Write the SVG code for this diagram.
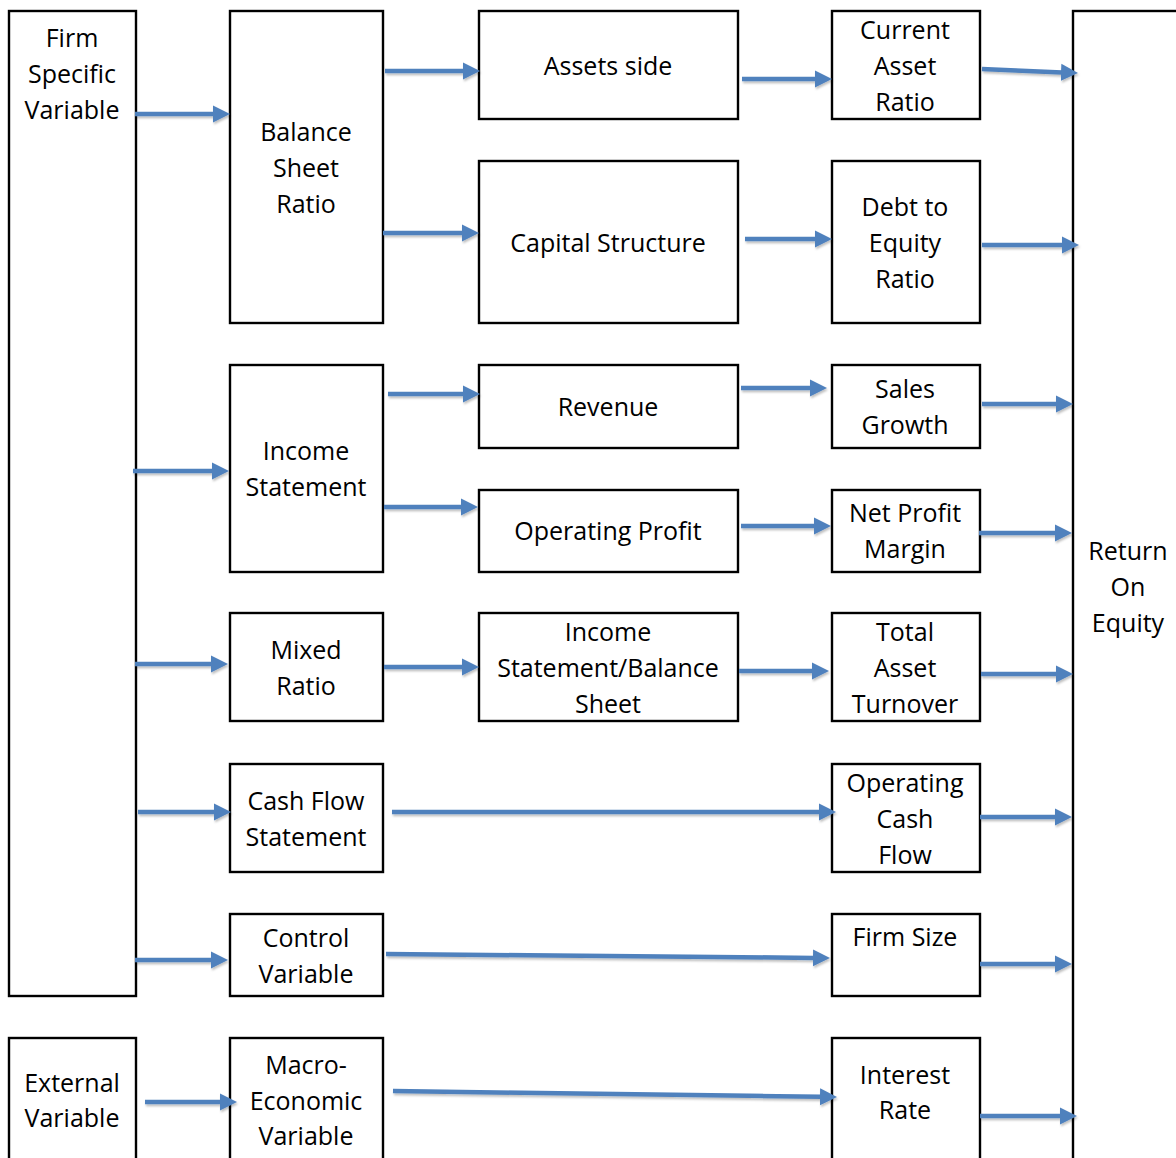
<svg xmlns="http://www.w3.org/2000/svg" width="1176" height="1158" viewBox="0 0 1176 1158">
<defs>
<style>
.box{fill:#fff;stroke:#000;stroke-width:2.4}
.t{font-family:"Open Sans","Liberation Sans",sans-serif;font-size:25px;fill:#000;text-anchor:middle}
.c{stroke:#4f81bd;stroke-width:4.5;fill:none;marker-end:url(#ah)}
</style>
<marker id="ah" markerUnits="userSpaceOnUse" markerWidth="17" markerHeight="18" viewBox="0 0 17 18" refX="1" refY="9" orient="auto">
<path d="M0,0.5 L17,9 L0,17.5 z" fill="#4f81bd"/>
</marker>
<filter id="sh" x="-5%" y="-50%" width="110%" height="200%">
<feDropShadow dx="1" dy="2" stdDeviation="1.2" flood-color="#000" flood-opacity="0.25"/>
</filter>
</defs>
<rect width="1176" height="1158" fill="#fff"/>

<g id="firm-specific"><rect class="box" x="9" y="11" width="127" height="985"/><text class="t"><tspan x="72" y="47">Firm</tspan><tspan x="72" y="83">Specific</tspan><tspan x="72" y="119">Variable</tspan></text></g>
<g id="balance-sheet"><rect class="box" x="230" y="11" width="153" height="312"/><text class="t"><tspan x="306" y="141">Balance</tspan><tspan x="306" y="177">Sheet</tspan><tspan x="306" y="213">Ratio</tspan></text></g>
<g id="assets-side"><rect class="box" x="479" y="11" width="259" height="108"/><text class="t" x="608" y="75">Assets side</text></g>
<g id="capital-structure"><rect class="box" x="479" y="161" width="259" height="162"/><text class="t" x="608" y="252">Capital Structure</text></g>
<g id="current-asset"><rect class="box" x="832" y="11" width="148" height="108"/><text class="t"><tspan x="905" y="39">Current</tspan><tspan x="905" y="75">Asset</tspan><tspan x="905" y="111">Ratio</tspan></text></g>
<g id="debt-equity"><rect class="box" x="832" y="161" width="148" height="162"/><text class="t"><tspan x="905" y="216">Debt to</tspan><tspan x="905" y="252">Equity</tspan><tspan x="905" y="288">Ratio</tspan></text></g>
<g id="roe"><rect class="box" x="1073" y="11" width="120" height="1170"/><text class="t"><tspan x="1128" y="560">Return</tspan><tspan x="1128" y="596">On</tspan><tspan x="1128" y="632">Equity</tspan></text></g>
<g id="income-statement"><rect class="box" x="230" y="365" width="153" height="207"/><text class="t"><tspan x="306" y="460">Income</tspan><tspan x="306" y="496">Statement</tspan></text></g>
<g id="revenue"><rect class="box" x="479" y="365" width="259" height="83"/><text class="t" x="608" y="416">Revenue</text></g>
<g id="operating-profit"><rect class="box" x="479" y="490" width="259" height="82"/><text class="t" x="608" y="540">Operating Profit</text></g>
<g id="sales-growth"><rect class="box" x="832" y="365" width="148" height="83"/><text class="t"><tspan x="905" y="398">Sales</tspan><tspan x="905" y="434">Growth</tspan></text></g>
<g id="net-profit"><rect class="box" x="832" y="490" width="148" height="82"/><text class="t"><tspan x="905" y="522">Net Profit</tspan><tspan x="905" y="558">Margin</tspan></text></g>
<g id="mixed-ratio"><rect class="box" x="230" y="613" width="153" height="108"/><text class="t"><tspan x="306" y="659">Mixed</tspan><tspan x="306" y="695">Ratio</tspan></text></g>
<g id="is-bs"><rect class="box" x="479" y="613" width="259" height="108"/><text class="t"><tspan x="608" y="641">Income</tspan><tspan x="608" y="677">Statement/Balance</tspan><tspan x="608" y="713">Sheet</tspan></text></g>
<g id="total-asset"><rect class="box" x="832" y="613" width="148" height="108"/><text class="t"><tspan x="905" y="641">Total</tspan><tspan x="905" y="677">Asset</tspan><tspan x="905" y="713">Turnover</tspan></text></g>
<g id="cash-flow"><rect class="box" x="230" y="764" width="153" height="108"/><text class="t"><tspan x="306" y="810">Cash Flow</tspan><tspan x="306" y="846">Statement</tspan></text></g>
<g id="operating-cash"><rect class="box" x="832" y="764" width="148" height="108"/><text class="t"><tspan x="905" y="792">Operating</tspan><tspan x="905" y="828">Cash</tspan><tspan x="905" y="864">Flow</tspan></text></g>
<g id="control-variable"><rect class="box" x="230" y="914" width="153" height="82"/><text class="t"><tspan x="306" y="947">Control</tspan><tspan x="306" y="983">Variable</tspan></text></g>
<g id="firm-size"><rect class="box" x="832" y="914" width="148" height="82"/><text class="t" x="905" y="946">Firm Size</text></g>
<g id="external"><rect class="box" x="9" y="1038" width="127" height="140"/><text class="t"><tspan x="72" y="1092">External</tspan><tspan x="72" y="1127">Variable</tspan></text></g>
<g id="macro"><rect class="box" x="230" y="1038" width="153" height="140"/><text class="t"><tspan x="306" y="1074">Macro-</tspan><tspan x="306" y="1110">Economic</tspan><tspan x="306" y="1145">Variable</tspan></text></g>
<g id="interest-rate"><rect class="box" x="832" y="1038" width="148" height="140"/><text class="t"><tspan x="905" y="1084">Interest</tspan><tspan x="905" y="1119">Rate</tspan></text></g>

<g id="connectors" filter="url(#sh)">
<line class="c" x1="135" y1="114" x2="214" y2="114"/>
<line class="c" x1="385" y1="71" x2="464" y2="71"/>
<line class="c" x1="383" y1="233" x2="463" y2="233"/>
<line class="c" x1="742" y1="79" x2="816" y2="79"/>
<line class="c" x1="745" y1="239" x2="816" y2="239"/>
<line class="c" x1="982" y1="69" x2="1062" y2="72.4"/>
<line class="c" x1="982" y1="245" x2="1063" y2="245"/>
<line class="c" x1="133" y1="471" x2="213" y2="471"/>
<line class="c" x1="388" y1="394" x2="464" y2="394"/>
<line class="c" x1="384" y1="507" x2="462" y2="507"/>
<line class="c" x1="741" y1="388" x2="811" y2="388"/>
<line class="c" x1="741" y1="526" x2="815" y2="526"/>
<line class="c" x1="982" y1="404" x2="1057" y2="404"/>
<line class="c" x1="979" y1="533" x2="1056" y2="533"/>
<line class="c" x1="135" y1="664" x2="212" y2="664"/>
<line class="c" x1="384" y1="667" x2="463" y2="667"/>
<line class="c" x1="739" y1="671" x2="813" y2="671"/>
<line class="c" x1="981" y1="674" x2="1057" y2="674"/>
<line class="c" x1="138" y1="812" x2="215" y2="812"/>
<line class="c" x1="392" y1="812" x2="820" y2="812"/>
<line class="c" x1="980" y1="817" x2="1056" y2="817"/>
<line class="c" x1="135" y1="960" x2="212" y2="960"/>
<line class="c" x1="386" y1="954" x2="814" y2="957.9"/>
<line class="c" x1="980" y1="964" x2="1056" y2="964"/>
<line class="c" x1="145" y1="1102" x2="221" y2="1102"/>
<line class="c" x1="393" y1="1091" x2="821" y2="1096.8"/>
<line class="c" x1="980" y1="1116" x2="1061" y2="1116"/>
</g>
</svg>
